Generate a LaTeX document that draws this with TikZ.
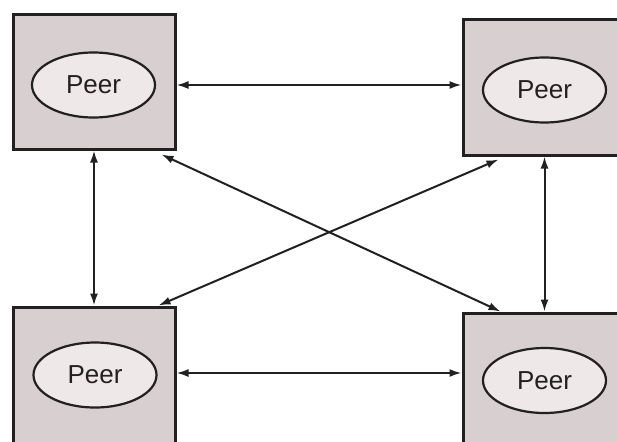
\documentclass[tikz,border=0pt]{standalone}
\usepackage{fontspec}
\setmainfont{Liberation Sans}
\usetikzlibrary{arrows.meta,calc,shapes.geometric}
\definecolor{boxfill}{RGB}{216,208,208}
\definecolor{ovalfill}{RGB}{238,232,232}
\definecolor{ink}{RGB}{34,32,32}
\tikzset{
  peerbox/.style={draw=ink, line width=3pt, fill=boxfill, rectangle, inner sep=0pt},
  peeroval/.style={draw=ink, line width=2.2pt, fill=ovalfill, ellipse, inner sep=0pt,
    minimum width=123pt, minimum height=65pt, font=\fontsize{26}{26}\selectfont, text=ink},
  link/.style={draw=ink, line width=2pt, {Latex[length=12pt,width=8pt]}-{Latex[length=12pt,width=8pt]}}
}
\begin{document}
\begin{tikzpicture}[x=1pt,y=-1pt]
  \clip (0,0) rectangle (617,441);
  \fill[white] (0,0) rectangle (617,441);

  % the four peer boxes
  \node[peerbox, minimum width=162pt, minimum height=134pt] (tl) at (94,82) {};
  \node[peerbox, minimum width=187pt, minimum height=135pt] (tr) at (556.5,87.5) {};
  \node[peerbox, minimum width=162pt, minimum height=153pt] (bl) at (94,383.5) {};
  \node[peerbox, minimum width=187pt, minimum height=147pt] (br) at (556.5,386.5) {};

  % peer labels
  \node[peeroval] (ptl) at (93.5,85) {Peer};
  \node[peeroval] (ptr) at (544.5,90) {Peer};
  \node[peeroval] (pbl) at (95,375) {Peer};
  \node[peeroval] (pbr) at (544.5,380.5) {Peer};

  % links between peers
  \draw[link] (ptl -| tl.east) -- (ptl -| tr.west);
  \draw[link] ([yshift=2pt]pbl -| bl.east) -- ([yshift=2pt]pbl -| br.west);
  \draw[link] (tl.south) -- (bl.north);
  \draw[link] (ptr |- tr.south) -- (ptr |- br.north);
  \draw[link] ([xshift=-15pt,yshift=-4pt]tl.south east) -- ([xshift=39pt]br.north west);
  \draw[link] ([xshift=37pt,yshift=-3pt]tr.south west) -- ([xshift=-18pt]bl.north east);
\end{tikzpicture}
\end{document}
